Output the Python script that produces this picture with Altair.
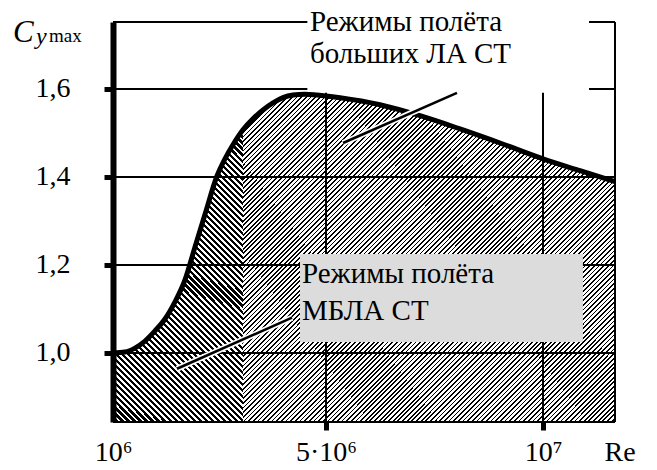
import altair as alt
import pandas as pd

# ---------------- data ----------------
RE = [1.000, 1.225, 1.413, 1.601, 1.789, 1.977, 2.164, 2.352, 2.540, 2.728,
      2.953, 3.103, 3.253, 3.441, 3.629, 3.817, 4.005, 4.192, 4.380, 4.606,
      4.831, 5.000, 5.323, 6.244, 7.166, 8.088, 9.009, 10.000, 10.853, 11.659]
CY = [1.000, 1.002, 1.011, 1.027, 1.050, 1.077, 1.116, 1.166, 1.241, 1.315,
      1.402, 1.441, 1.473, 1.507, 1.532, 1.552, 1.568, 1.580, 1.586, 1.588,
      1.586, 1.584, 1.580, 1.564, 1.539, 1.509, 1.477, 1.441, 1.414, 1.389]
DARK_END = 3.441          # end of the МБЛА region (Re, ×10^6)

Y_TICKS = [1.0, 1.2, 1.4, 1.6]
Y_LABELS = ["1,0", "1,2", "1,4", "1,6"]
X_TICKS = [1, 5, 10]
X_LABELS = ["10⁶", "5·10⁶", "10⁷"]
X_GRID = [5, 10]
X_DOMAIN = [1, 5, 10, 11.659]
Y_DOMAIN = [0.843, 1.752]

UPPER_TEXT = ["Режимы полёта", "больших ЛА СТ"]
LOWER_TEXT = ["Режимы полёта", "МБЛА СТ"]
UPPER_TEXT_AT = [4.699, 1.732]
LOWER_TEXT_AT = [4.549, 1.159]
UPPER_BOX = [4.65, 11.06, 1.591, 1.78]
LOWER_BOX = [4.512, 10.92, 1.025, 1.225]
LEADERS_RE = [2.202, 5.392]
LEADERS_RE2 = [4.362, 8.018]
LEADERS_CY = [0.964, 1.477]
LEADERS_CY2 = [1.080, 1.591]

FONT = "'Liberation Serif', Tinos, 'Times New Roman', 'DejaVu Serif', 'Noto Serif', serif"
W, H = 502, 400

curve = pd.DataFrame({"Re": RE, "Cy": CY})


def stripes(n, frac, x1, y1, x2, y2):
    stops = []
    for i in range(n):
        a = round(i / n, 6)
        b = round((i + frac) / n, 6)
        c = round((i + 1) / n, 6)
        stops += [alt.GradientStop(offset=a, color="black"),
                  alt.GradientStop(offset=b, color="black"),
                  alt.GradientStop(offset=b, color="white"),
                  alt.GradientStop(offset=c, color="white")]
    return alt.LinearGradient(gradient="linear", stops=stops,
                              x1=x1, y1=y1, x2=x2, y2=y2)


dark_fill = stripes(70, 0.52, 1, 0, 0.461, 1.206)
light_fill = stripes(150, 0.38, 0, 0, 1.060, 0.9316)

xscale = alt.Scale(domain=X_DOMAIN, range=[0, 213, 430, W], nice=False, zero=False)
yscale = alt.Scale(domain=Y_DOMAIN, nice=False, zero=False)

xlabel_expr = " : ".join(
    f"datum.value == {v} ? '{l}'" for v, l in zip(X_TICKS, X_LABELS)) + " : ''"

xaxis = alt.Axis(values=X_TICKS, labelExpr=xlabel_expr, domain=False, grid=False,
                 ticks=True, tickColor="black", tickWidth=5, tickSize=8,
                 tickOpacity={"condition": {"test": "datum.value == 1", "value": 0}, "value": 1},
                 labelFont=FONT, labelFontSize=28, labelColor="black",
                 labelBaseline="alphabetic", labelPadding=30, labelFlush=False,
                 labelOverlap=False,
                 title="Re", titleFont=FONT, titleFontSize=28, titleFontWeight="normal",
                 titleColor="black", titleX=491, titleY=38, titleAlign="left",
                 titleBaseline="alphabetic", zindex=1)
yaxis = alt.Axis(values=Y_TICKS, labels=False, domain=True, domainColor="black",
                 domainWidth=6, grid=False, ticks=True, tickColor="black", tickWidth=5,
                 tickSize=9, title="", zindex=1)

X = alt.X("Re:Q", scale=xscale, axis=xaxis, title="Re")
Y = alt.Y("Cy:Q", scale=yscale, axis=yaxis, title="")

dark = alt.Chart(curve).transform_filter(alt.datum.Re <= DARK_END + 1e-9).mark_area(
    interpolate="monotone", color=dark_fill).encode(x=X, y=Y, y2=alt.datum(Y_DOMAIN[0]))
light = alt.Chart(curve).transform_filter(alt.datum.Re >= DARK_END - 1e-9).mark_area(
    interpolate="monotone", color=light_fill).encode(
    x="Re:Q", y="Cy:Q", y2=alt.datum(Y_DOMAIN[0]))

hgrid = alt.Chart(pd.DataFrame({"Cy": Y_TICKS})).mark_rule(
    color="black", strokeWidth=2).encode(y="Cy:Q")
vgrid = alt.Chart(pd.DataFrame({"Re": X_GRID})).mark_rule(
    color="black", strokeWidth=2).encode(x="Re:Q")

ylab = alt.Chart(pd.DataFrame({"Cy": Y_TICKS, "lab": Y_LABELS})).mark_text(
    font=FONT, fontSize=28, align="center", baseline="middle", color="black").encode(
    y="Cy:Q", text="lab:N", x=alt.value(-60))

top_b = alt.Chart(pd.DataFrame({"Cy": [Y_DOMAIN[1]]})).mark_rule(
    color="black", strokeWidth=2).encode(y="Cy:Q")
bot_b = alt.Chart(pd.DataFrame({"Cy": [Y_DOMAIN[0]]})).mark_rule(
    color="black", strokeWidth=2).encode(y="Cy:Q")
right_b = alt.Chart(pd.DataFrame({"Re": [X_DOMAIN[-1]]})).mark_rule(
    color="black", strokeWidth=2).encode(x="Re:Q")

box_df = pd.DataFrame({"Re": [UPPER_BOX[0], LOWER_BOX[0]], "Re2": [UPPER_BOX[1], LOWER_BOX[1]],
                       "Cy": [UPPER_BOX[2], LOWER_BOX[2]], "Cy2": [UPPER_BOX[3], LOWER_BOX[3]],
                       "c": ["#ffffff", "#dcdcdc"]})
boxes = alt.Chart(box_df).mark_rect(clip=False).encode(
    x="Re:Q", x2="Re2:Q", y="Cy:Q", y2="Cy2:Q",
    color=alt.Color("c:N", scale=None))

line = alt.Chart(curve).mark_line(interpolate="monotone", color="black",
                                  strokeWidth=5).encode(x="Re:Q", y="Cy:Q")

lead_df = pd.DataFrame({"Re": LEADERS_RE, "Re2": LEADERS_RE2, "Cy": LEADERS_CY, "Cy2": LEADERS_CY2})
lead_halo = alt.Chart(lead_df).mark_rule(color="white", strokeWidth=6).encode(
    x="Re:Q", x2="Re2:Q", y="Cy:Q", y2="Cy2:Q")
lead = alt.Chart(lead_df).mark_rule(color="black", strokeWidth=2.5).encode(
    x="Re:Q", x2="Re2:Q", y="Cy:Q", y2="Cy2:Q")

up_txt = alt.Chart(pd.DataFrame({"Re": [UPPER_TEXT_AT[0]], "Cy": [UPPER_TEXT_AT[1]]})).mark_text(
    text=UPPER_TEXT, font=FONT, fontSize=29, align="left", baseline="alphabetic",
    lineHeight=32, color="black").encode(x="Re:Q", y="Cy:Q")
lo_txt = alt.Chart(pd.DataFrame({"Re": [LOWER_TEXT_AT[0]], "Cy": [LOWER_TEXT_AT[1]]})).mark_text(
    text=LOWER_TEXT, font=FONT, fontSize=29, align="left", baseline="alphabetic",
    lineHeight=37, color="black").encode(x="Re:Q", y="Cy:Q")

t_c = alt.Chart(pd.DataFrame({"t": ["C"]})).mark_text(
    font=FONT, fontSize=31, fontStyle="italic", align="left", baseline="alphabetic",
    color="black").encode(text="t:N", x=alt.value(-100), y=alt.value(20))
t_y = alt.Chart(pd.DataFrame({"t": ["y"]})).mark_text(
    font=FONT, fontSize=24, fontStyle="italic", align="left", baseline="alphabetic",
    color="black").encode(text="t:N", x=alt.value(-77), y=alt.value(22))
t_max = alt.Chart(pd.DataFrame({"t": ["max"]})).mark_text(
    font=FONT, fontSize=19, align="left", baseline="alphabetic",
    color="black").encode(text="t:N", x=alt.value(-64), y=alt.value(20))

chart = alt.layer(
    dark, light, hgrid, vgrid, top_b, bot_b, right_b, boxes, line,
    lead_halo, lead, up_txt, lo_txt, ylab, t_c, t_y, t_max
).properties(
    width=W, height=H,
    autosize=alt.AutoSizeParams(type="none"),
    padding={"left": 105, "top": 14, "right": 30, "bottom": 46},
    background="white",
).configure_view(stroke=None)

chart.save("out.html", embed_options={"renderer": "svg", "actions": False})
